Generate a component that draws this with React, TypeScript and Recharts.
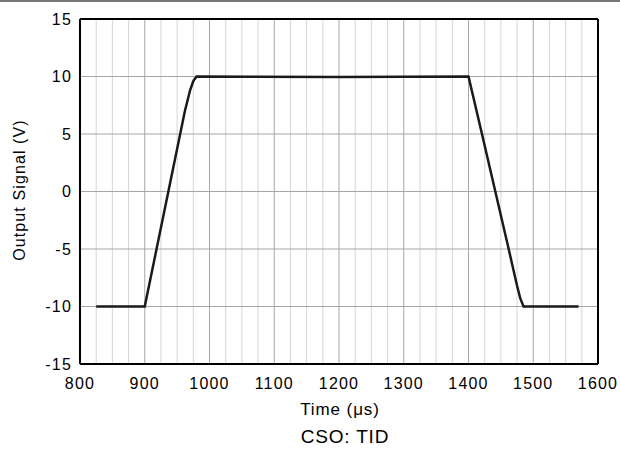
import { LineChart, Line, XAxis, YAxis, ReferenceLine } from "recharts";

// time (µs) and output signal (V)
const times = [825, 900, 962, 970, 975, 980, 1200, 1400, 1420, 1460, 1475, 1480, 1485, 1570];
const volts = [-10, -10, 7, 8.8, 9.6, 10, 9.95, 10, 5.2, -4.5, -8.2, -9.3, -10, -10];

const xTicks = [800, 900, 1000, 1100, 1200, 1300, 1400, 1500, 1600];
const yTicks = [-15, -10, -5, 0, 5, 10, 15];
const minorStep = 25;

const data = times.map((t, i) => ({ t, v: volts[i] }));

// light grid every 25 µs, darker one on the major ticks
const minorX = xTicks.flatMap((t) => [t + minorStep, t + 2 * minorStep, t + 3 * minorStep]).filter((t) => t < 1600);
const majorX = xTicks.slice(1, -1);
const majorY = yTicks.slice(1, -1);

const font = "'Liberation Sans', Arial, sans-serif";
const tickStyle = { fill: "#000", fontSize: 16, fontFamily: font, letterSpacing: 1.2 };

export default function App() {
  return (
    <div style={{ position: "absolute", left: 0, top: 0, width: 620, height: 451, background: "#fff", fontFamily: font }}>
      <div style={{ position: "absolute", left: 0, top: 0, width: 620, height: 0, borderTop: "2px solid #777" }} />
      <LineChart width={620} height={451} data={data} margin={{ top: 19, right: 22, bottom: 37, left: 0 }}>
        {minorX.map((t) => (
          <ReferenceLine key={"mn" + t} x={t} stroke="#d6d6d6" strokeWidth={1} />
        ))}
        {majorX.map((t) => (
          <ReferenceLine key={"mj" + t} x={t} stroke="#a6a6a6" strokeWidth={1} />
        ))}
        {majorY.map((v) => (
          <ReferenceLine key={"y" + v} y={v} stroke="#a6a6a6" strokeWidth={1} />
        ))}
        <XAxis
          dataKey="t"
          type="number"
          domain={[800, 1600]}
          ticks={xTicks}
          height={50}
          tickLine={false}
          tickSize={6}
          tickMargin={8}
          axisLine={{ stroke: "#000", strokeWidth: 2 }}
          tick={tickStyle}
          label={{
            content: () => (
              <text x={340} y={415} textAnchor="middle" fill="#000" fontSize={17} letterSpacing={0.9} fontFamily={font}>
                Time (&#956;s)
              </text>
            ),
          }}
        />
        <YAxis
          type="number"
          domain={[-15, 15]}
          ticks={yTicks}
          width={80}
          tickLine={false}
          axisLine={{ stroke: "#000", strokeWidth: 2 }}
          tick={tickStyle}
          label={{
            content: () => (
              <text x={19} y={190} transform="rotate(-90 19 190)" textAnchor="middle" dominantBaseline="central" fill="#000" fontSize={16} letterSpacing={1.1} fontFamily={font}>
                Output Signal (V)
              </text>
            ),
          }}
        />
        <ReferenceLine x={1600} stroke="#000" strokeWidth={2} />
        <ReferenceLine y={15} stroke="#000" strokeWidth={2} />
        <Line type="linear" dataKey="v" stroke="#1a1a1a" strokeWidth={2.5} dot={false} isAnimationActive={false} />
      </LineChart>
      <div style={{ position: "absolute", left: 0, width: 690, top: 426, textAlign: "center", fontSize: 19, letterSpacing: 0.8, color: "#000" }}>CSO: TID</div>
    </div>
  );
}
